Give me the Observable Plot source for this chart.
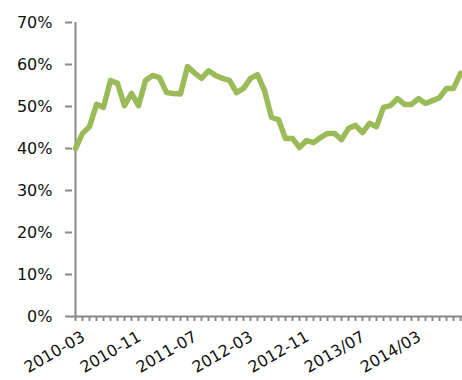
<!DOCTYPE html>
<html>
<head>
<meta charset="utf-8">
<script src="https://cdn.jsdelivr.net/npm/d3@7"></script>
<script src="https://cdn.jsdelivr.net/npm/@observablehq/plot@0.6"></script>
<style>
  html, body { margin: 0; padding: 0; background: #fff; }
</style>
</head>
<body>
<div id="chart"></div>
<script>
const months = [
  "2010-03","2010-04","2010-05","2010-06","2010-07","2010-08","2010-09","2010-10","2010-11","2010-12",
  "2011-01","2011-02","2011-03","2011-04","2011-05","2011-06","2011-07","2011-08","2011-09","2011-10","2011-11","2011-12",
  "2012-01","2012-02","2012-03","2012-04","2012-05","2012-06","2012-07","2012-08","2012-09","2012-10","2012-11","2012-12",
  "2013-01","2013-02","2013-03","2013-04","2013-05","2013-06","2013-07","2013-08","2013-09","2013-10","2013-11","2013-12",
  "2014-01","2014-02","2014-03","2014-04","2014-05","2014-06","2014-07","2014-08","2014-09","2014-10"
];
const values = [
  40.0, 43.6, 45.2, 50.5, 49.8, 56.2, 55.5, 50.2, 53.1, 50.2,
  56.2, 57.4, 56.9, 53.3, 53.1, 53.0, 59.5, 58.0, 56.7, 58.5, 57.4, 56.7,
  56.2, 53.3, 54.3, 56.7, 57.6, 53.8, 47.4, 46.9, 42.4, 42.4, 40.2, 41.9,
  41.4, 42.6, 43.6, 43.6, 42.1, 44.8, 45.5, 43.8, 46.0, 45.2, 49.8, 50.2,
  51.9, 50.5, 50.5, 51.9, 50.7, 51.4, 52.1, 54.3, 54.3, 57.9
];
const tickMonths = ["2010-03","2010-11","2011-07","2012-03","2012-11","2013-07","2014-03"];
const tickLabels = ["2010-03","2010-11","2011-07","2012-03","2012-11","2013/07","2014/03"];
const yTicks = [0, 10, 20, 30, 40, 50, 60, 70];

const data = months.map((m, i) => ({month: m, value: values[i]}));
const labelOf = new Map(tickMonths.map((m, i) => [m, tickLabels[i]]));
const axisColor = "#898989";

const chart = Plot.plot({
  width: 462,
  height: 380,
  marginLeft: 72,
  marginRight: 0,
  marginTop: 22,
  marginBottom: 64,
  style: {fontFamily: "DejaVu Sans", fontSize: "16px", color: "#111", background: "#fff", overflow: "visible"},
  x: {type: "point", domain: months, padding: 0},
  y: {domain: [0, 70]},
  marks: [
    Plot.axisY({
      ticks: yTicks,
      tickFormat: d => d + "%",
      tickSize: 7,
      tickPadding: 13,
      stroke: axisColor,
      strokeWidth: 2,
      label: null
    }),
    // monthly tick marks
    Plot.axisX({
      ticks: months,
      tickSize: 5,
      fill: "none",
      stroke: axisColor,
      strokeWidth: 2,
      label: null
    }),
    // labels every 8 months
    Plot.axisX({
      ticks: tickMonths,
      tickFormat: d => labelOf.get(d),
      tickSize: 0,
      tickPadding: 19,
      tickRotate: -30,
      dx: 8,
      label: null
    }),
    Plot.ruleX([months[0]], {y1: 0, y2: 70, stroke: axisColor, strokeWidth: 2}),
    Plot.ruleY([0], {stroke: axisColor, strokeWidth: 2}),
    Plot.lineY(data, {x: "month", y: "value", stroke: "#9BBB59", strokeWidth: 5.5, strokeLinejoin: "round", strokeLinecap: "round"})
  ]
});
document.getElementById("chart").appendChild(chart);
</script>
</body>
</html>
